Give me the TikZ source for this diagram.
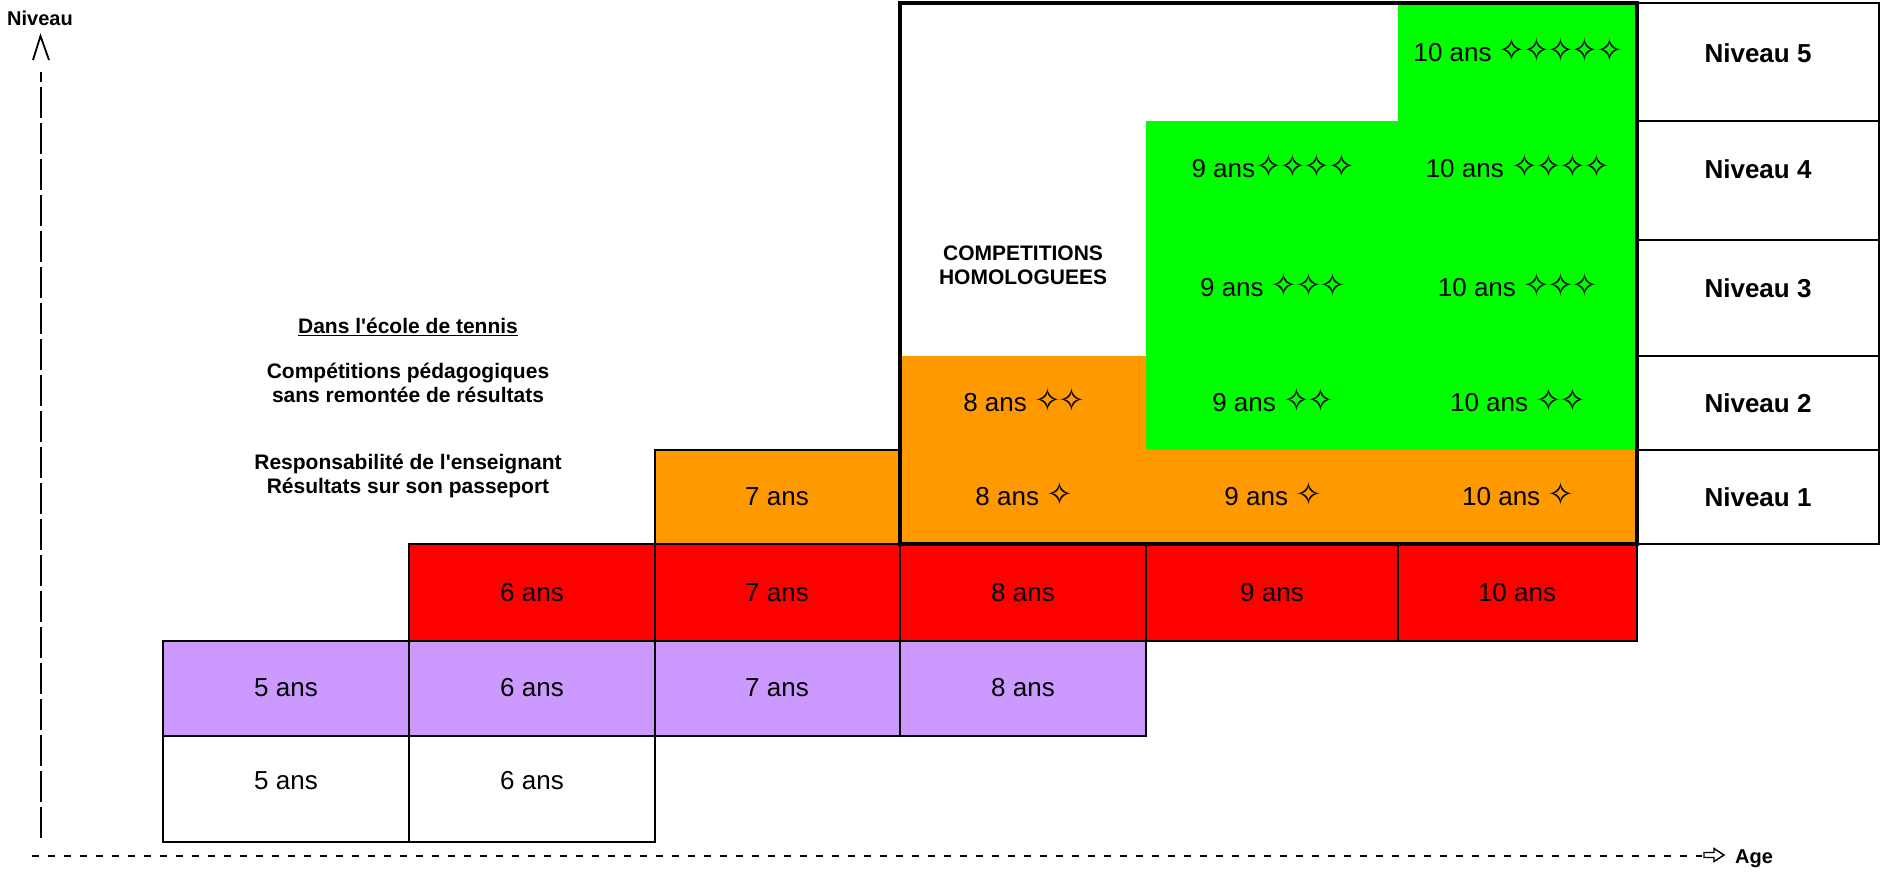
\documentclass[tikz,border=0pt]{standalone}
\usepackage{fontspec}
\setmainfont{Liberation Sans}[Ligatures=TeXOff]
\newfontfamily\starfont{DejaVu Sans}
\definecolor{vert}{HTML}{00FF00}
\definecolor{orangec}{HTML}{FF9900}
\definecolor{rouge}{HTML}{FF0000}
\definecolor{violetc}{HTML}{CC99FF}
\newcommand{\etoile}{\smash{\starfont\fontsize{32}{32}\selectfont ✧}\kern-2.5pt}
\begin{document}
\begin{tikzpicture}[x=1pt,y=-1pt,
  thin line/.style={draw=black, line width=1.5pt},
  txt/.style={font=\fontsize{26}{30}\selectfont, inner sep=0pt, anchor=center},
  btxt/.style={font=\fontsize{26}{30}\selectfont\bfseries, inner sep=0pt, anchor=center},
  note/.style={font=\fontsize{21}{24}\selectfont\bfseries, align=center, inner sep=0pt, anchor=center},
  axislabel/.style={font=\fontsize{20}{24}\selectfont\bfseries, inner sep=0pt, anchor=center}]
\useasboundingbox (0,0) rectangle (1881,873);
\fill[white] (0,0) rectangle (1881,873);

% white row
\path[thin line, fill=white] (163,736) rectangle (409,842);
\path[thin line, fill=white] (409,736) rectangle (655,842);
% purple row
\path[thin line, fill=violetc] (163,641) rectangle (409,736);
\path[thin line, fill=violetc] (409,641) rectangle (655,736);
\path[thin line, fill=violetc] (655,641) rectangle (900,736);
\path[thin line, fill=violetc] (900,641) rectangle (1146,736);
% red row
\path[thin line, fill=rouge] (409,544) rectangle (655,641);
\path[thin line, fill=rouge] (655,544) rectangle (900,641);
\path[thin line, fill=rouge] (900,544) rectangle (1146,641);
\path[thin line, fill=rouge] (1146,544) rectangle (1398,641);
\path[thin line, fill=rouge] (1398,544) rectangle (1637,641);
% orange 7 ans
\path[thin line, fill=orangec] (655,450) rectangle (900,544);
% niveau boxes
\path[thin line, fill=white] (1637,3) rectangle (1879,121);
\path[thin line, fill=white] (1637,121) rectangle (1879,240);
\path[thin line, fill=white] (1637,240) rectangle (1879,356);
\path[thin line, fill=white] (1637,356) rectangle (1879,450);
\path[thin line, fill=white] (1637,450) rectangle (1879,544);
% inside big box
\fill[vert] (1146,121) -- (1398,121) -- (1398,3) -- (1637,3) -- (1637,450) -- (1146,450) -- cycle;
\fill[orangec] (900,356) -- (1146,356) -- (1146,450) -- (1637,450) -- (1637,544) -- (900,544) -- cycle;
\draw[line width=4pt] (900,3) rectangle (1637,544);

% niveau labels
\node[btxt] (n5) at (1758,53) {Niveau 5};
\node[btxt] (n4) at (1758,169) {Niveau 4};
\node[btxt] (n3) at (1758,288) {Niveau 3};
\node[btxt] (n2) at (1758,403) {Niveau 2};
\node[btxt] (n1) at (1758,497) {Niveau 1};

% green / orange cell texts
\node[txt] (f5) at (1517,53) {10 ans \etoile\etoile\etoile\etoile\etoile};
\node[txt] (f4) at (1517,169) {10 ans \etoile\etoile\etoile\etoile};
\node[txt] (f3) at (1517,288) {10 ans \etoile\etoile\etoile};
\node[txt] (f2) at (1517,403) {10 ans \etoile\etoile};
\node[txt] (f1) at (1517,497) {10 ans \etoile};
\node[txt] (e4) at (1272,169) {9 ans\etoile\etoile\etoile\etoile};
\node[txt] (e3) at (1272,288) {9 ans \etoile\etoile\etoile};
\node[txt] (e2) at (1272,403) {9 ans \etoile\etoile};
\node[txt] (e1) at (1272,497) {9 ans \etoile};
\node[txt] (d2) at (1023,403) {8 ans \etoile\etoile};
\node[txt] (d1) at (1023,497) {8 ans \etoile};
\node[txt] (c1) at (777,497) {7 ans};

% red row
\node[txt] (rb) at (532,593) {6 ans};
\node[txt] (rc) at (777,593) {7 ans};
\node[txt] (rd) at (1023,593) {8 ans};
\node[txt] (re) at (1272,593) {9 ans};
\node[txt] (rf) at (1517,593) {10 ans};
% purple row
\node[txt] (pa) at (286,688) {5 ans};
\node[txt] (pb) at (532,688) {6 ans};
\node[txt] (pc) at (777,688) {7 ans};
\node[txt] (pd) at (1023,688) {8 ans};
% white row
\node[txt] (wa) at (286,781) {5 ans};
\node[txt] (wb) at (532,781) {6 ans};

% notes
\node[note] (comp) at (1023,265) {COMPETITIONS\\HOMOLOGUEES};
\node[note] (ecole) at (408,327) {\underline{Dans l'école de tennis}};
\node[note] (peda) at (408,383) {Compétitions pédagogiques\\sans remontée de résultats};
\node[note] (resp) at (408,476) {Responsabilité de l'enseignant\\Résultats sur son passeport};

% axes
\node[axislabel] (niv) at (40,18) {Niveau};
\node[axislabel] (age) at (1754,859) {Age};
\coordinate (ybot) at (41,838);
\coordinate (ytop) at (41,72);
\coordinate (xleft) at (32,856);
\coordinate (xright) at (1702,856);
\draw[line width=2pt, dash pattern=on 31pt off 5pt] (ybot) -- (ytop);
\draw[line width=2pt, dash pattern=on 7pt off 9pt] (xleft) -- (xright);
\draw[line width=1.8pt] (33,60) -- (40.5,36) -- (49,60);
\draw[line width=1.4pt, fill=white, line join=miter]
  (1704,852.5) -- (1714,852.5) -- (1714,848.5) -- (1724,855) -- (1714,861.5) -- (1714,857.5) -- (1704,857.5) -- cycle;
\end{tikzpicture}
\end{document}
